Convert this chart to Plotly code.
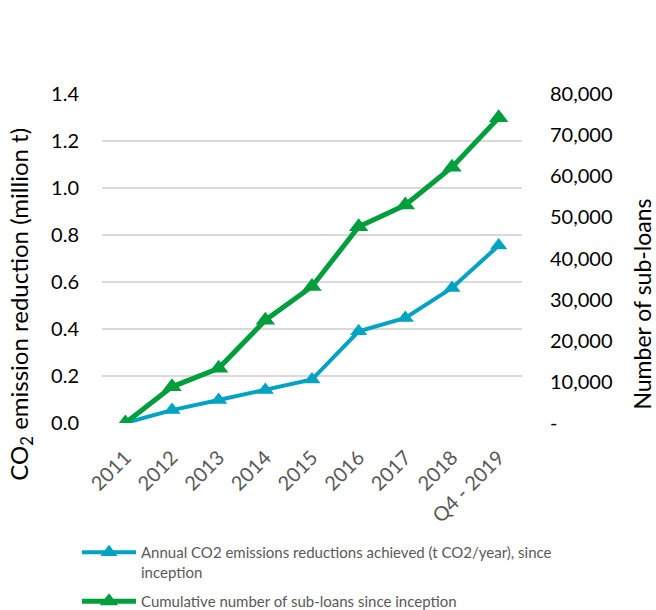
import plotly.graph_objects as go

# Categories and series
years = ["2011", "2012", "2013", "2014", "2015", "2016", "2017", "2018", "Q4 - 2019"]
co2_reduction_mt = [0.0, 0.055, 0.098, 0.14, 0.185, 0.39, 0.447, 0.575, 0.755]
cumulative_subloans = [0, 8800, 13300, 25000, 33200, 47700, 53000, 62200, 74200]

left_ticks = [0.0, 0.2, 0.4, 0.6, 0.8, 1.0, 1.2, 1.4]
left_tick_text = ["0.0", "0.2", "0.4", "0.6", "0.8", "1.0", "1.2", "1.4"]
right_ticks = [0, 10000, 20000, 30000, 40000, 50000, 60000, 70000, 80000]
right_tick_text = ["-", "10,000", "20,000", "30,000", "40,000", "50,000", "60,000", "70,000", "80,000"]

BLUE = "#00A3C2"
GREEN = "#009E3D"
FONT = "Lato, 'Open Sans', sans-serif"

fig = go.Figure()

fig.add_trace(go.Scatter(
    x=years, y=co2_reduction_mt,
    name="Annual CO2 emissions reductions achieved (t CO2/year), since<br>inception",
    legendgroup="co2",
    mode="lines+markers",
    line=dict(color=BLUE, width=4),
    marker=dict(symbol="triangle-up", size=15, color=BLUE),
    yaxis="y",
))

fig.add_trace(go.Scatter(
    x=years, y=cumulative_subloans,
    name="Cumulative number of sub-loans since inception",
    legendgroup="loans",
    mode="lines+markers",
    line=dict(color=GREEN, width=5),
    marker=dict(symbol="triangle-up", size=17, color=GREEN),
    yaxis="y2",
))

# Axis titles placed as rotated annotations, centred a little below the plot middle
fig.add_annotation(
    text="CO<sub>2</sub> emission reduction (million t)",
    xref="paper", yref="paper", x=-0.195, y=0.36,
    xanchor="center", yanchor="middle", textangle=-90, showarrow=False,
    font=dict(size=24, color="#000000"),
)
fig.add_annotation(
    text="Number of sub-loans",
    xref="paper", yref="paper", x=(642 - 102) / 420, y=0.36,
    xanchor="center", yanchor="middle", textangle=-90, showarrow=False,
    font=dict(size=23, color="#000000"),
)

fig.update_layout(
    width=656, height=610,
    margin=dict(l=102, r=134, t=94, b=187, autoexpand=False),
    paper_bgcolor="white",
    plot_bgcolor="white",
    font=dict(family=FONT, color="#000000"),
    xaxis=dict(
        type="category",
        range=[-0.5, 8.5],
        tickangle=-45,
        tickfont=dict(size=20, color="#595959"),
        showgrid=False,
        showline=False,
        zeroline=False,
        ticks="",
        ticklabelstandoff=18,
    ),
    yaxis=dict(
        range=[0, 1.4],
        tickvals=left_ticks,
        ticktext=left_tick_text,
        tickfont=dict(size=20, color="#000000"),
        showgrid=True,
        gridcolor="#D9D9D9",
        gridwidth=1.5,
        zeroline=False,
        ticklabelstandoff=22,
    ),
    yaxis2=dict(
        range=[0, 80000],
        overlaying="y",
        side="right",
        tickvals=right_ticks,
        ticktext=right_tick_text,
        tickfont=dict(size=20, color="#000000"),
        showgrid=False,
        zeroline=False,
        ticklabelstandoff=27,
    ),
    legend=dict(
        orientation="v",
        x=(77 - 102) / 420, xanchor="left",
        y=(423 - 536) / 329, yanchor="top",
        valign="top",
        font=dict(size=15, color="#595959"),
        itemwidth=54,
        tracegroupgap=7,
        bgcolor="rgba(0,0,0,0)",
    ),
    showlegend=True,
)

fig.write_html("out.html")
